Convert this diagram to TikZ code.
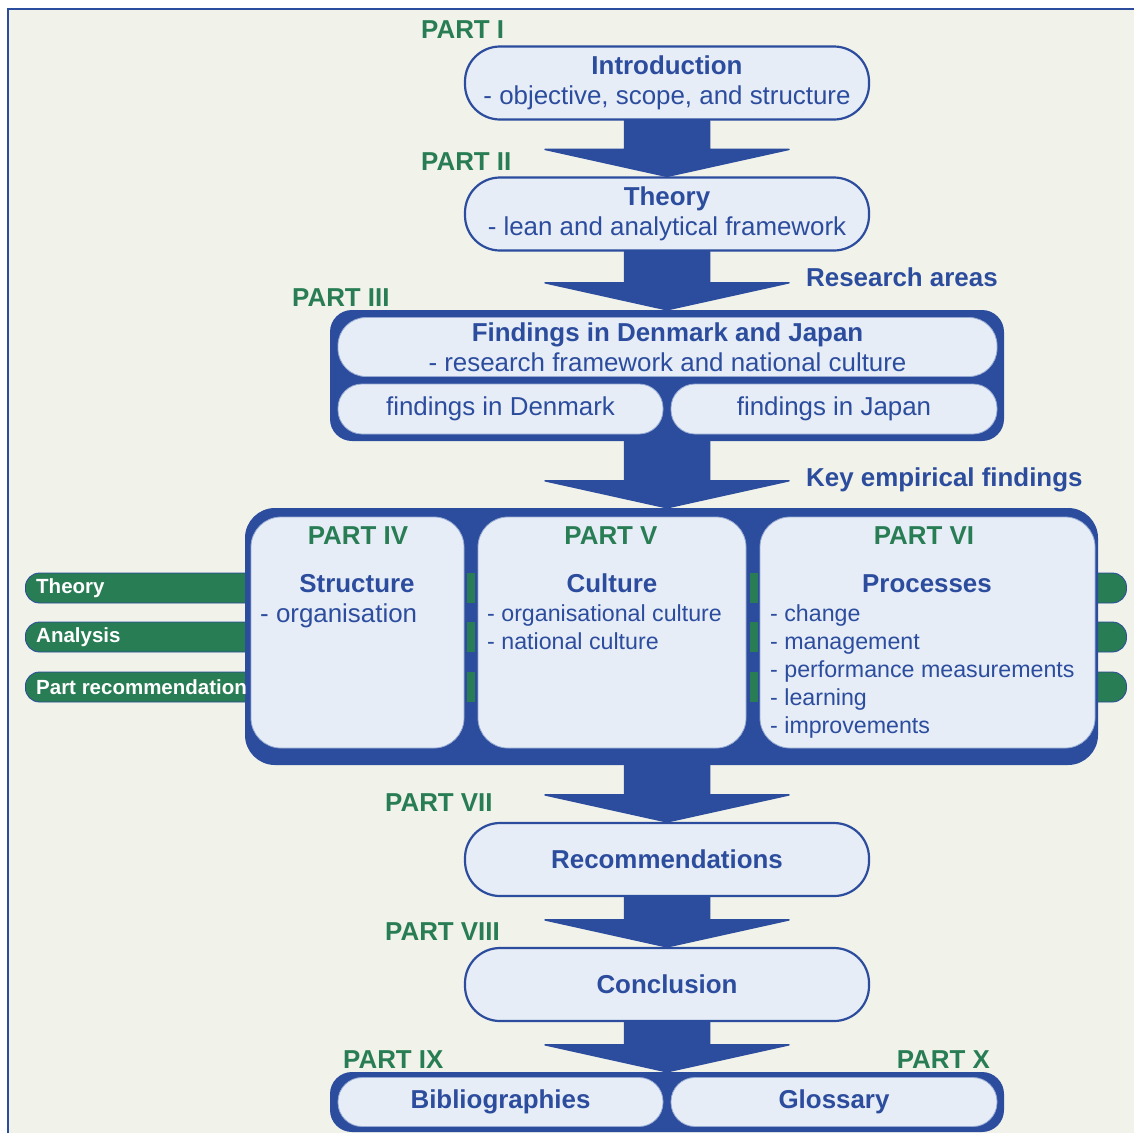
\documentclass[tikz,border=0pt]{standalone}
\usepackage{fontspec}
\setmainfont{Liberation Sans}
\usetikzlibrary{calc}

\definecolor{darkblue}{RGB}{44,76,157}
\definecolor{partgreen}{RGB}{40,125,84}
\definecolor{paper}{RGB}{241,242,234}
\definecolor{boxfill}{RGB}{230,237,247}
\definecolor{boxline}{RGB}{150,170,210}

\newcommand{\mainsize}{\fontsize{25.9}{30}\selectfont}
\newcommand{\listsize}{\fontsize{23.2}{28}\selectfont}
\newcommand{\barsize}{\fontsize{20.5}{24}\selectfont}

% big block arrow from one box to the next, on the middle axis
\newcommand{\blockarrow}[2]{%
    \filldraw[darkblue, line width=1.5pt, line join=round]
        ($(axis |- #1.south)+(-42.5,0)$) -- ($(axis |- #1.south)+(42.5,0)$)
        -- ($(axis |- #2.north)+(42.5,-27)$) -- ($(axis |- #2.north)+(122,-27)$)
        -- (axis |- #2.north)
        -- ($(axis |- #2.north)+(-122,-27)$) -- ($(axis |- #2.north)+(-42.5,-27)$) -- cycle;}

\tikzset{
    pill/.style={draw=darkblue, line width=2.2pt, fill=boxfill, rounded corners=35pt,
        minimum width=404pt, minimum height=73pt, align=center, text=darkblue, font=\mainsize},
    holder/.style={fill=darkblue, rounded corners=22pt},
    inbox/.style={draw=boxline, line width=0.8pt, fill=boxfill, text=darkblue,
        font=\mainsize, align=center},
    partlabel/.style={text=partgreen, font=\mainsize\bfseries},
    heading/.style={text=darkblue, font=\mainsize\bfseries},
    itemtext/.style={text=darkblue, font=\listsize},
    sidebar/.style={draw=darkblue, line width=0.8pt, fill=partgreen, rounded corners=14pt,
        minimum height=30pt},
    bartext/.style={text=white, font=\barsize\bfseries}
}

\begin{document}
\begin{tikzpicture}[x=1pt, y=-1pt, every node/.style={inner sep=0pt}]
    \useasboundingbox (0,0) rectangle (1134,1133);
    \fill[paper] (8,9) rectangle (1134,1133);
    \draw[darkblue, line width=2pt] (8,1133) -- (8,9) -- (1134,9);
    \coordinate (axis) at (667,0);

    % green bars behind the middle parts
    \node[sidebar, minimum width=235pt, anchor=west] (bar1) at (25,588) {};
    \node[sidebar, minimum width=235pt, anchor=west] (bar2) at (25,637) {};
    \node[sidebar, minimum width=235pt, anchor=west] (bar3) at (25,687) {};
    \node[sidebar, minimum width=45pt] (stub1) at (1104,588) {};
    \node[sidebar, minimum width=45pt] (stub2) at (1104,637) {};
    \node[sidebar, minimum width=45pt] (stub3) at (1104,687) {};

    % boxes
    \node[pill] (intro) at (667,83) {\textbf{Introduction}\\- objective, scope, and structure};
    \node[pill] (theory) at (667,214) {\textbf{Theory}\\- lean and analytical framework};

    \node[holder, minimum width=674pt, minimum height=131pt] (findings) at (667,375.5) {};
    \node[inbox, rounded corners=28pt, minimum width=659pt, minimum height=59pt] (fhead) at (667.5,347)
        {\textbf{Findings in Denmark and Japan}\\- research framework and national culture};
    \node[inbox, rounded corners=24pt, minimum width=325pt, minimum height=50pt] (fdenmark) at (500.5,409) {findings in Denmark};
    \node[inbox, rounded corners=24pt, minimum width=326pt, minimum height=50pt] (fjapan) at (834,409) {findings in Japan};

    \node[holder, rounded corners=30pt, minimum width=853pt, minimum height=257pt] (parts) at (671.5,636.5) {};
    \node[inbox, rounded corners=30pt, minimum width=213pt, minimum height=231pt] (structure) at (357.5,632.5) {};
    \node[inbox, rounded corners=30pt, minimum width=268pt, minimum height=231pt] (culture) at (612,632.5) {};
    \node[inbox, rounded corners=30pt, minimum width=335pt, minimum height=231pt] (processes) at (927.5,632.5) {};

    \node[pill] (recom) at (667,859.5) {\textbf{Recommendations}};
    \node[pill] (concl) at (667,984.5) {\textbf{Conclusion}};

    \node[holder, minimum width=674pt, minimum height=60pt] (appendix) at (667,1102) {};
    \node[inbox, rounded corners=24pt, minimum width=325pt, minimum height=49pt] (biblio) at (500.5,1102) {\textbf{Bibliographies}};
    \node[inbox, rounded corners=24pt, minimum width=326pt, minimum height=49pt] (glossary) at (834,1102) {\textbf{Glossary}};

    % arrows
    \blockarrow{intro}{theory}
    \blockarrow{theory}{findings}
    \blockarrow{findings}{parts}
    \blockarrow{parts}{recom}
    \blockarrow{recom}{concl}
    \blockarrow{concl}{appendix}

    \foreach \y in {588,637,687} {
        \fill[partgreen] (467,\y-15) rectangle (475,\y+15);
        \fill[partgreen] (750,\y-15) rectangle (758,\y+15);
    }

    % labels
    \node[bartext, anchor=west] (t1) at ($(bar1.west)+(11,0)$) {Theory};
    \node[bartext, anchor=west] (t2) at ($(bar2.west)+(11,0)$) {Analysis};
    \node[bartext, anchor=west] (t3) at ($(bar3.west)+(11,0)$) {Part recommendation};

    \node[partlabel, anchor=west] (p1) at (421,30) {PART I};
    \node[partlabel, anchor=west] (p2) at (421,162) {PART II};
    \node[partlabel, anchor=west] (p3) at (292,298) {PART III};
    \node[partlabel] (p4) at (358,536) {PART IV};
    \node[partlabel] (p5) at (611,536) {PART V};
    \node[partlabel] (p6) at (924,536) {PART VI};
    \node[partlabel, anchor=west] (p7) at (385,803) {PART VII};
    \node[partlabel, anchor=west] (p8) at (385,932) {PART VIII};
    \node[partlabel, anchor=west] (p9) at (343,1060) {PART IX};
    \node[partlabel, anchor=east] (p10) at (990,1060) {PART X};

    \node[heading, anchor=west] (areas) at (806,277) {Research areas};
    \node[heading, anchor=base west] (keyfind) at (806,486) {Key empirical findings};

    \node[heading, anchor=base] (shead) at (357,592) {Structure};
    \node[heading, anchor=base] (chead) at (612,592) {Culture};
    \node[heading, anchor=base] (phead) at (927,592) {Processes};

    \node[text=darkblue, font=\mainsize, anchor=base west] (s1) at (260,622) {- organisation};
    \foreach \txt [count=\i] in {organisational culture, national culture}
        \node[itemtext, anchor=base west] (c\i) at (487,{593+28*\i}) {- \txt};
    \foreach \txt [count=\i] in {change, management, performance measurements, learning, improvements}
        \node[itemtext, anchor=base west] (pr\i) at (770,{593+28*\i}) {- \txt};
\end{tikzpicture}
\end{document}
